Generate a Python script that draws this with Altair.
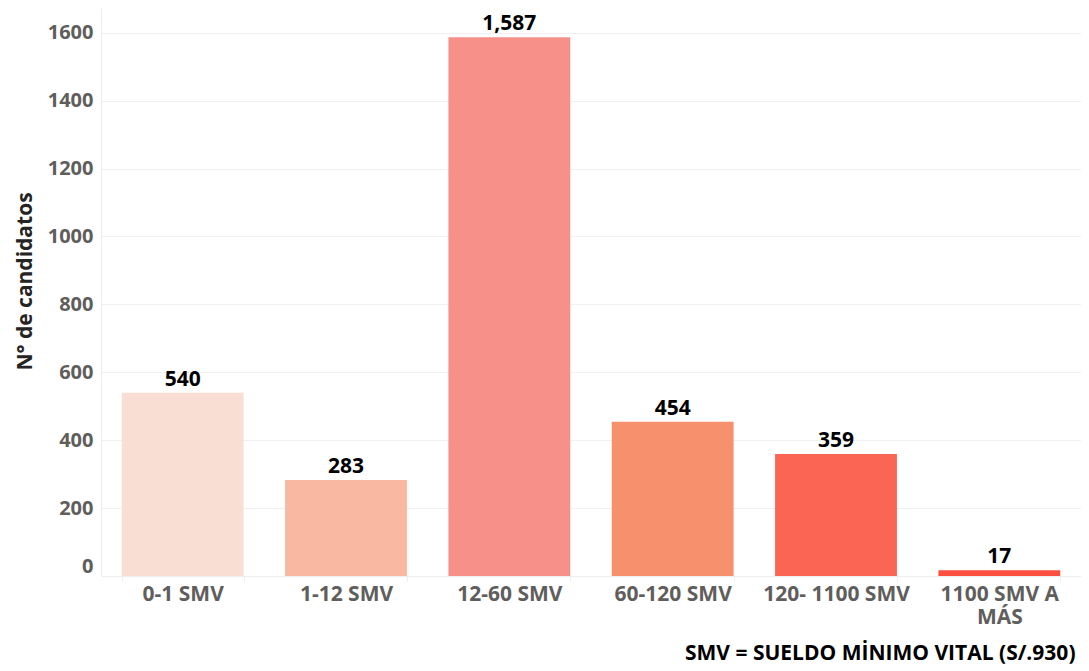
import pandas as pd
import altair as alt

# datos
rangos = ["0-1 SMV", "1-12 SMV", "12-60 SMV", "60-120 SMV", "120- 1100 SMV", "1100 SMV A MÁS"]
candidatos = [540, 283, 1587, 454, 359, 17]
colores = ["#F9DED4", "#F8B8A2", "#F79088", "#F7906D", "#FB6554", "#FC4F3F"]
ticks_y = [0, 200, 400, 600, 800, 1000, 1200, 1400, 1600]

df = pd.DataFrame({"rango": rangos, "valor": candidatos})

fuente = "Open Sans"
gris = "#605E5C"

x = alt.X(
    "rango:N",
    sort=rangos,
    scale=alt.Scale(paddingInner=0.254, paddingOuter=0.127),
    axis=alt.Axis(
        title="SMV = SUELDO MİNIMO VITAL (S/.930)",
        titleFont=fuente, titleFontSize=21, titleFontWeight="bold", titleColor="#000000",
        titleAnchor="end", titleAlign="right", titleBaseline="alphabetic",
        titleX=974, titleY=83,
        labelFont=fuente, labelFontSize=21, labelFontWeight="bold", labelColor=gris,
        labelAngle=0, labelPadding=2, labelLineHeight=23,
        labelExpr="datum.label == '1100 SMV A MÁS' ? ['1100 SMV A', 'MÁS'] : datum.label",
        domainColor="#EEEEEE", tickColor="#EEEEEE", tickSize=5, tickBand="extent",
        grid=False,
    ),
)

y = alt.Y(
    "valor:Q",
    scale=alt.Scale(domain=[0, 1673], nice=False),
    axis=alt.Axis(
        title="N° de candidatos",
        titleFont=fuente, titleFontSize=21, titleFontWeight="bold", titleColor="#252423",
        titleAngle=270, titleBaseline="middle", titleAlign="center",
        titleX=-76, titleY=273,
        values=ticks_y, format="d",
        labelFont=fuente, labelFontSize=20, labelFontWeight="bold", labelColor=gris,
        labelPadding=8, labelFlush=True, labelFlushOffset=0,
        ticks=False, domainColor="#EEEEEE",
        gridColor="#F0F0F0", gridWidth=1,
    ),
)

barras = alt.Chart(df).mark_bar().encode(
    x=x,
    y=y,
    color=alt.Color("rango:N", scale=alt.Scale(domain=rangos, range=colores), legend=None),
)

etiquetas = alt.Chart(df).mark_text(
    font=fuente, fontSize=21, fontWeight="bold", color="#000000",
    baseline="bottom", dy=-3,
).encode(
    x=alt.X("rango:N", sort=rangos),
    y=alt.Y("valor:Q"),
    text=alt.Text("valor:Q", format=","),
)

chart = (barras + etiquetas).properties(
    width=980,
    height=568,
    autosize=alt.AutoSizeParams(type="none"),
    padding={"left": 93, "top": 0, "right": 0, "bottom": 88},
).configure(
    background="#FFFFFF"
).configure_view(
    stroke=None
)

chart.save("out.html", embed_options={"renderer": "svg", "actions": False})
